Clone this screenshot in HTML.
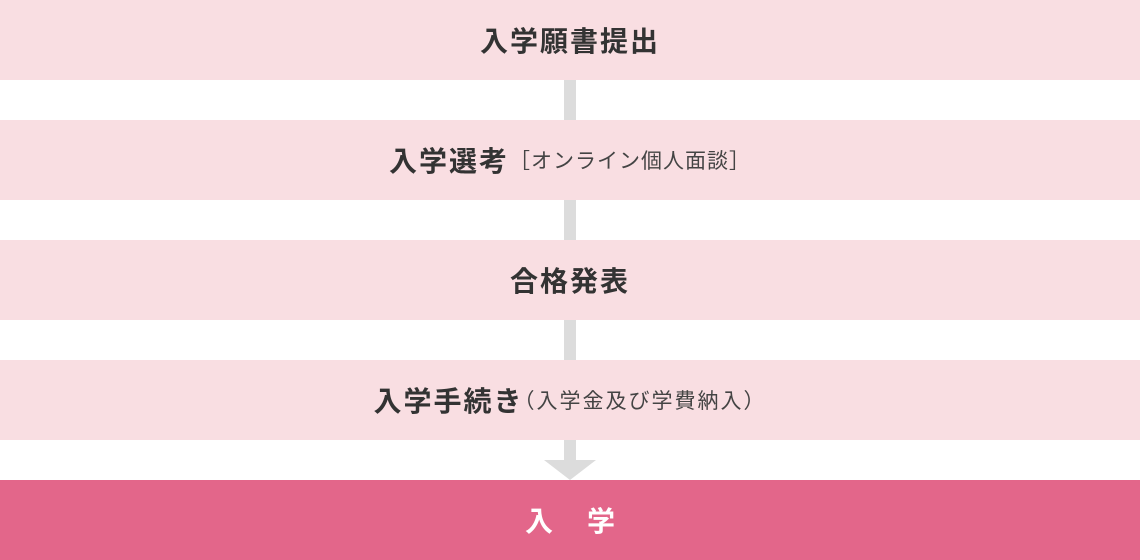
<!DOCTYPE html>
<html><head><meta charset="utf-8"><style>
body{margin:0;width:1140px;height:560px;position:relative;background:#fff;font-family:"Liberation Sans","Noto Sans CJK JP",sans-serif;overflow:hidden}
.b{position:absolute;left:0;width:1140px;height:80px;background:#f9dee2;display:flex;align-items:center;justify-content:center;color:#333;}
.t{font-size:28px;font-weight:bold;letter-spacing:2px}
.s{font-size:21px;font-weight:normal;letter-spacing:2px;color:#444}
.l{position:absolute;left:564px;width:12px;background:#dcdcdc}
</style></head><body>
<div class="l" style="top:80px;height:40px"></div>
<div class="l" style="top:200px;height:40px"></div>
<div class="l" style="top:320px;height:40px"></div>
<div class="l" style="top:440px;height:22px"></div>
<div style="position:absolute;left:544px;top:460px;width:0;height:0;border-left:26px solid transparent;border-right:26px solid transparent;border-top:20px solid #dcdcdc"></div>
<div class="b" style="top:0"><span class="t">入学願書提出</span></div>
<div class="b" style="top:120px"><span class="t">入学選考</span><span class="s" style="font-size:21px;letter-spacing:1px">［オンライン個人面談］</span></div>
<div class="b" style="top:240px"><span class="t">合格発表</span></div>
<div class="b" style="top:360px"><span class="t">入学手続き</span><span class="s" style="margin-left:-10px">（入学金及び学費納入）</span></div>
<div class="b" style="top:480px;background:#e3668a;color:#fff"><span class="t" style="letter-spacing:34px;margin-left:34px">入学</span></div>
</body></html>
